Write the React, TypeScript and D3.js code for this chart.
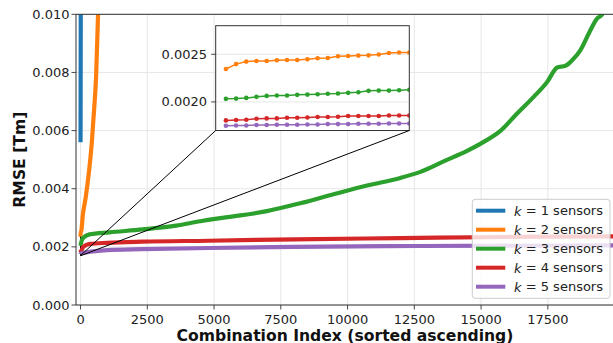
import { useEffect } from 'react';
import * as d3 from 'd3';

const WIDTH = 613;
const HEIGHT = 343;

const colors = ['#1f77b4', '#ff7f0e', '#2ca02c', '#d62728', '#9467bd'];
const seriesK = [1, 2, 3, 4, 5];

const xTicks = [0, 2500, 5000, 7500, 10000, 12500, 15000, 17500];
const yTicks = [0, 0.002, 0.004, 0.006, 0.008, 0.01];
const yTickLabels = ['0.000', '0.002', '0.004', '0.006', '0.008', '0.010'];
const insetTicks = [0.002, 0.0025];
const insetTickLabels = ['0.0020', '0.0025'];

// first 19 combinations (zoomed view)
const insetK2 = [
  0.002345, 0.002397, 0.002423, 0.002429, 0.002429, 0.002437, 0.00244, 0.00244, 0.002447,
  0.002458, 0.002461, 0.002479, 0.002482, 0.002486, 0.002489, 0.002497, 0.002514, 0.002518,
  0.002518,
];
const insetK3 = [
  0.002032, 0.002035, 0.002042, 0.002053, 0.002063, 0.002067, 0.002067, 0.002074, 0.002077,
  0.00208, 0.002085, 0.002088, 0.002095, 0.002101, 0.002116, 0.002119, 0.002119, 0.002123,
  0.002127,
];
const insetK4 = [
  0.001806, 0.00181, 0.001813, 0.001823, 0.001827, 0.001827, 0.001834, 0.001834, 0.001837,
  0.001841, 0.001841, 0.001845, 0.001852, 0.001852, 0.001852, 0.001852, 0.001858, 0.001858,
  0.001858,
];
const insetK5 = [
  0.00175, 0.001753, 0.001753, 0.001757, 0.001757, 0.00176, 0.00176, 0.00176, 0.001763,
  0.001763, 0.001767, 0.001767, 0.001767, 0.001771, 0.001771, 0.001771, 0.001774, 0.001774,
  0.001774,
];

// rest of the sorted curves: [combination index, rmse]
const tailK1: [number, number][] = [[0, 0.0056], [10, 0.011], [49, 0.04]];
const tailK2: [number, number][] = [
  [94, 0.00316], [195, 0.00371], [292, 0.0044], [420, 0.00557], [506, 0.0067],
  [581, 0.00783], [656, 0.01], [800, 0.0135], [1224, 0.03],
];
const tailK3: [number, number][] = [
  [80, 0.00229], [330, 0.00243], [1080, 0.0025], [2330, 0.0026], [3580, 0.00273],
  [4480, 0.00288], [5105, 0.00297], [5727, 0.00305], [6979, 0.00323], [8227, 0.0035],
  [9475, 0.00381], [10727, 0.00411], [11975, 0.00437], [12725, 0.00458], [13598, 0.00494],
  [14475, 0.0053], [15098, 0.00561], [15723, 0.00599], [16349, 0.00659], [16971, 0.00716],
  [17474, 0.00767], [17849, 0.00817], [18160, 0.00823], [18411, 0.00842], [18722, 0.00877],
  [19033, 0.00934], [19348, 0.00986], [19535, 0.01], [19599, 0.0102],
];
const tailK4: [number, number][] = [
  [100, 0.002], [350, 0.0021], [1000, 0.00214], [2300, 0.00218], [4800, 0.00221],
  [8000, 0.00226], [12000, 0.0023], [16000, 0.00234], [20500, 0.00236],
];
const tailK5: [number, number][] = [
  [200, 0.00181], [1000, 0.00189], [2300, 0.00192], [4800, 0.00196], [8000, 0.002],
  [12700, 0.00203], [20500, 0.00205],
];

const insetSeries = [null, insetK2, insetK3, insetK4, insetK5];
const tails = [tailK1, tailK2, tailK3, tailK4, tailK5];

const FONT = "'DejaVu Sans', sans-serif";

export default function App() {
  useEffect(() => {
    document.body.style.margin = '0';
  }, []);

  const plot = { left: 76, right: 614.6, top: 14.3, bottom: 305 };
  const x = d3.scaleLinear().domain([-170, 20000]).range([plot.left, plot.right]);
  const y = d3.scaleLinear().domain([0, 0.01]).range([plot.bottom, plot.top]);

  const inset = { left: 215.7, right: 409.3, top: 25.7, bottom: 130.5 };
  const xi = d3.scaleLinear().domain([-1, 18]).range([inset.left, inset.right]);
  const yi = d3.scaleLinear().domain([0.0017, 0.0028]).range([inset.bottom, inset.top]);

  const mainLine = d3
    .line<[number, number]>()
    .x((d) => x(d[0]))
    .y((d) => y(d[1]))
    .curve(d3.curveMonotoneX);
  const insetLine = d3
    .line<number>()
    .x((_, i) => xi(i))
    .y((d) => yi(d));

  const fullSeries = tails.map((tail, s) => {
    const head = insetSeries[s];
    const pts: [number, number][] = head ? head.map((v, i) => [i, v]) : [];
    return pts.concat(tail);
  });

  const legend = { left: 472.3, top: 199.3, right: 610, bottom: 298.3, row0: 210.7, step: 19 };

  return (
    <svg
      width={WIDTH}
      height={HEIGHT}
      style={{ position: 'absolute', left: 0, top: 0, background: '#fff' }}
      fontFamily={FONT}
    >
      <defs>
        <clipPath id="main-clip">
          <rect x={plot.left} y={plot.top} width={plot.right - plot.left} height={plot.bottom - plot.top} />
        </clipPath>
        <clipPath id="inset-clip">
          <rect
            x={inset.left}
            y={inset.top}
            width={inset.right - inset.left}
            height={inset.bottom - inset.top}
          />
        </clipPath>
      </defs>

      {/* grid */}
      <g stroke="#e3e3e3" strokeWidth={0.9}>
        {xTicks.map((t) => (
          <line key={'gx' + t} x1={x(t)} x2={x(t)} y1={plot.top} y2={plot.bottom} />
        ))}
        {yTicks.map((t) => (
          <line key={'gy' + t} x1={plot.left} x2={plot.right} y1={y(t)} y2={y(t)} />
        ))}
      </g>

      {/* zoom region marker on main axes */}
      <rect
        x={x(-1)}
        y={y(0.0028)}
        width={x(18) - x(-1)}
        height={y(0.0017) - y(0.0028)}
        fill="none"
        stroke="#000"
        strokeWidth={0.8}
      />

      {/* curves */}
      <g clipPath="url(#main-clip)" fill="none" strokeWidth={4.2} strokeLinejoin="round">
        {fullSeries.map((pts, s) => (
          <path key={'s' + s} d={mainLine(pts) ?? ''} stroke={colors[s]} />
        ))}
      </g>

      {/* axes spines */}
      <g stroke="#333" strokeWidth={1} fill="none">
        <line x1={plot.left} x2={plot.left} y1={plot.top} y2={plot.bottom} />
        <line x1={plot.left} x2={plot.right} y1={plot.bottom} y2={plot.bottom} />
        <line x1={plot.left} x2={plot.right} y1={plot.top} y2={plot.top} />
      </g>

      {/* ticks */}
      <g stroke="#333" strokeWidth={0.9}>
        {xTicks.map((t) => (
          <line key={'tx' + t} x1={x(t)} x2={x(t)} y1={plot.bottom} y2={plot.bottom + 4.5} />
        ))}
        {yTicks.map((t) => (
          <line key={'ty' + t} x1={plot.left - 4.5} x2={plot.left} y1={y(t)} y2={y(t)} />
        ))}
      </g>
      <g fontSize={13} fill="#222">
        {xTicks.map((t) => (
          <text key={'lx' + t} x={x(t)} y={324} textAnchor="middle">
            {t}
          </text>
        ))}
        {yTicks.map((t, i) => (
          <text key={'ly' + t} x={69.5} y={y(t)} textAnchor="end" dominantBaseline="central">
            {yTickLabels[i]}
          </text>
        ))}
      </g>

      <text x={345} y={340.5} textAnchor="middle" fontSize={15.6} fontWeight="bold" fill="#111">
        Combination Index (sorted ascending)
      </text>
      <text
        transform={`translate(24.5, ${(plot.top + plot.bottom) / 2}) rotate(-90)`}
        textAnchor="middle"
        fontSize={15.6}
        fontWeight="bold"
        fill="#111"
      >
        RMSE [Tm]
      </text>

      {/* legend */}
      <rect
        x={legend.left}
        y={legend.top}
        width={legend.right - legend.left}
        height={legend.bottom - legend.top}
        rx={3}
        fill="#fff"
        fillOpacity={0.8}
        stroke="#cccccc"
        strokeWidth={1}
      />
      {seriesK.map((k, i) => {
        const cy = legend.row0 + i * legend.step;
        return (
          <g key={'lg' + k}>
            <line x1={476} x2={505.3} y1={cy} y2={cy} stroke={colors[i]} strokeWidth={4} />
            <text x={514} y={cy} fontSize={13} dominantBaseline="central" fill="#222">
              <tspan fontStyle="italic">k</tspan> = {k} sensors
            </text>
          </g>
        );
      })}

      {/* inset */}
      <rect
        x={inset.left}
        y={inset.top}
        width={inset.right - inset.left}
        height={inset.bottom - inset.top}
        fill="#fff"
      />
      <g stroke="#e3e3e3" strokeWidth={0.9}>
        {insetTicks.map((t) => (
          <line key={'ig' + t} x1={inset.left} x2={inset.right} y1={yi(t)} y2={yi(t)} />
        ))}
      </g>
      <g clipPath="url(#inset-clip)">
        {insetSeries.map((vals, s) =>
          vals ? (
            <g key={'is' + s}>
              <path d={insetLine(vals) ?? ''} fill="none" stroke={colors[s]} strokeWidth={1.5} />
              {vals.map((v, i) => (
                <circle key={i} cx={xi(i)} cy={yi(v)} r={2.3} fill={colors[s]} />
              ))}
            </g>
          ) : null
        )}
      </g>
      <rect
        x={inset.left}
        y={inset.top}
        width={inset.right - inset.left}
        height={inset.bottom - inset.top}
        fill="none"
        stroke="#333"
        strokeWidth={1}
      />
      <g stroke="#333" strokeWidth={0.9}>
        {insetTicks.map((t) => (
          <line key={'it' + t} x1={inset.left - 4.5} x2={inset.left} y1={yi(t)} y2={yi(t)} />
        ))}
      </g>
      <g fontSize={13} fill="#222">
        {insetTicks.map((t, i) => (
          <text key={'il' + t} x={207} y={yi(t)} textAnchor="end" dominantBaseline="central">
            {insetTickLabels[i]}
          </text>
        ))}
      </g>

      {/* connectors */}
      <g stroke="#000" strokeWidth={1}>
        <line x1={inset.left} y1={inset.bottom} x2={x(-1)} y2={y(0.0017)} />
        <line x1={inset.right} y1={inset.bottom} x2={x(18)} y2={y(0.0017)} />
      </g>
    </svg>
  );
}
